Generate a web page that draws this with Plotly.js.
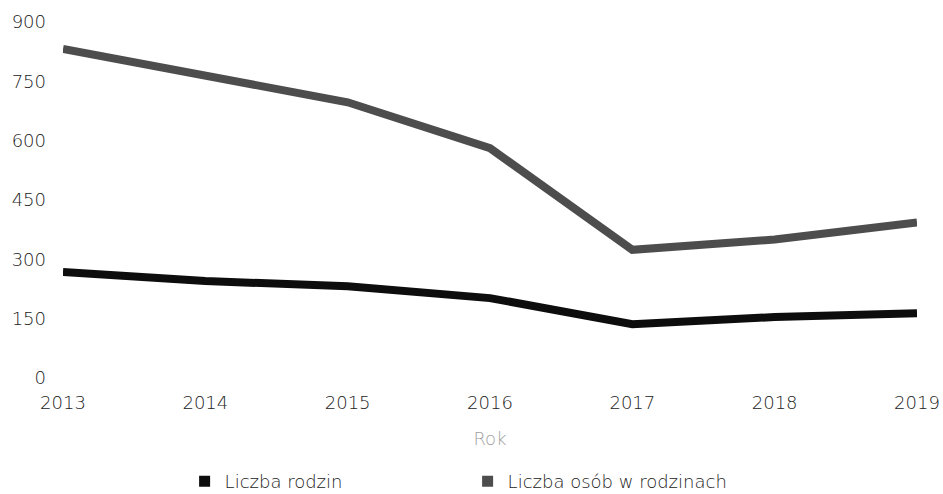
<!DOCTYPE html>
<html><head><meta charset="utf-8">
<script src="https://cdn.plot.ly/plotly-3.0.1.min.js"></script>
<style>html,body{margin:0;padding:0;background:#fff}#c{width:943px;height:494px}</style>
</head><body><div id="c"></div>
<script>
var years = ['2013','2014','2015','2016','2017','2018','2019'];
var liczbaRodzin = [268, 245, 232, 202, 136, 154, 164];
var liczbaOsob = [832, 766, 697, 581, 324, 350, 393];
var yTicks = [0, 150, 300, 450, 600, 750, 900];
var seriesNames = ['Liczba rodzin', 'Liczba osób w rodzinach'];
var seriesColors = ['#0d0d0d', '#4d4d4d'];

var font = {family: 'DejaVu Sans, sans-serif', size: 18, color: '#222', weight: 300};
var traces = [
  {x: years, y: liczbaRodzin, name: seriesNames[0], type: 'scatter', mode: 'lines', showlegend: false,
   line: {color: seriesColors[0], width: 8}},
  {x: years, y: liczbaOsob, name: seriesNames[1], type: 'scatter', mode: 'lines', showlegend: false,
   line: {color: seriesColors[1], width: 8}},
  {x: [null], y: [null], name: seriesNames[0], type: 'scatter', mode: 'markers',
   marker: {symbol: 'square', size: 11, color: seriesColors[0]}},
  {x: [null], y: [null], name: seriesNames[1], type: 'scatter', mode: 'markers',
   marker: {symbol: 'square', size: 11, color: seriesColors[1]}}
];
var layout = {
  width: 943, height: 494,
  margin: {l: 63, r: 26, t: 22, b: 116},
  paper_bgcolor: '#fff', plot_bgcolor: '#fff',
  font: font,
  showlegend: true,
  legend: {orientation: 'h', x: 0.1424, xref: 'paper', xanchor: 'left', y: 0.025, yref: 'container', yanchor: 'middle',
           font: font, itemwidth: 30, entrywidth: 238, entrywidthmode: 'pixels',
           traceorder: 'normal'},
  xaxis: {type: 'category', range: [0, 6], showgrid: false, zeroline: false, showline: false, automargin: false,
          ticks: '', ticklabelstandoff: 12, tickfont: font,
          title: {text: 'Rok', font: {family: 'DejaVu Sans, sans-serif', size: 18, color: '#a0a0a0', weight: 300}, standoff: 20}},
  yaxis: {range: [0, 900], tickvals: yTicks, showgrid: false, zeroline: false, showline: false, automargin: false,
          ticks: '', ticklabelstandoff: 16, tickfont: font}
};
Plotly.newPlot('c', traces, layout, {displayModeBar: false, staticPlot: true});
</script></body></html>
